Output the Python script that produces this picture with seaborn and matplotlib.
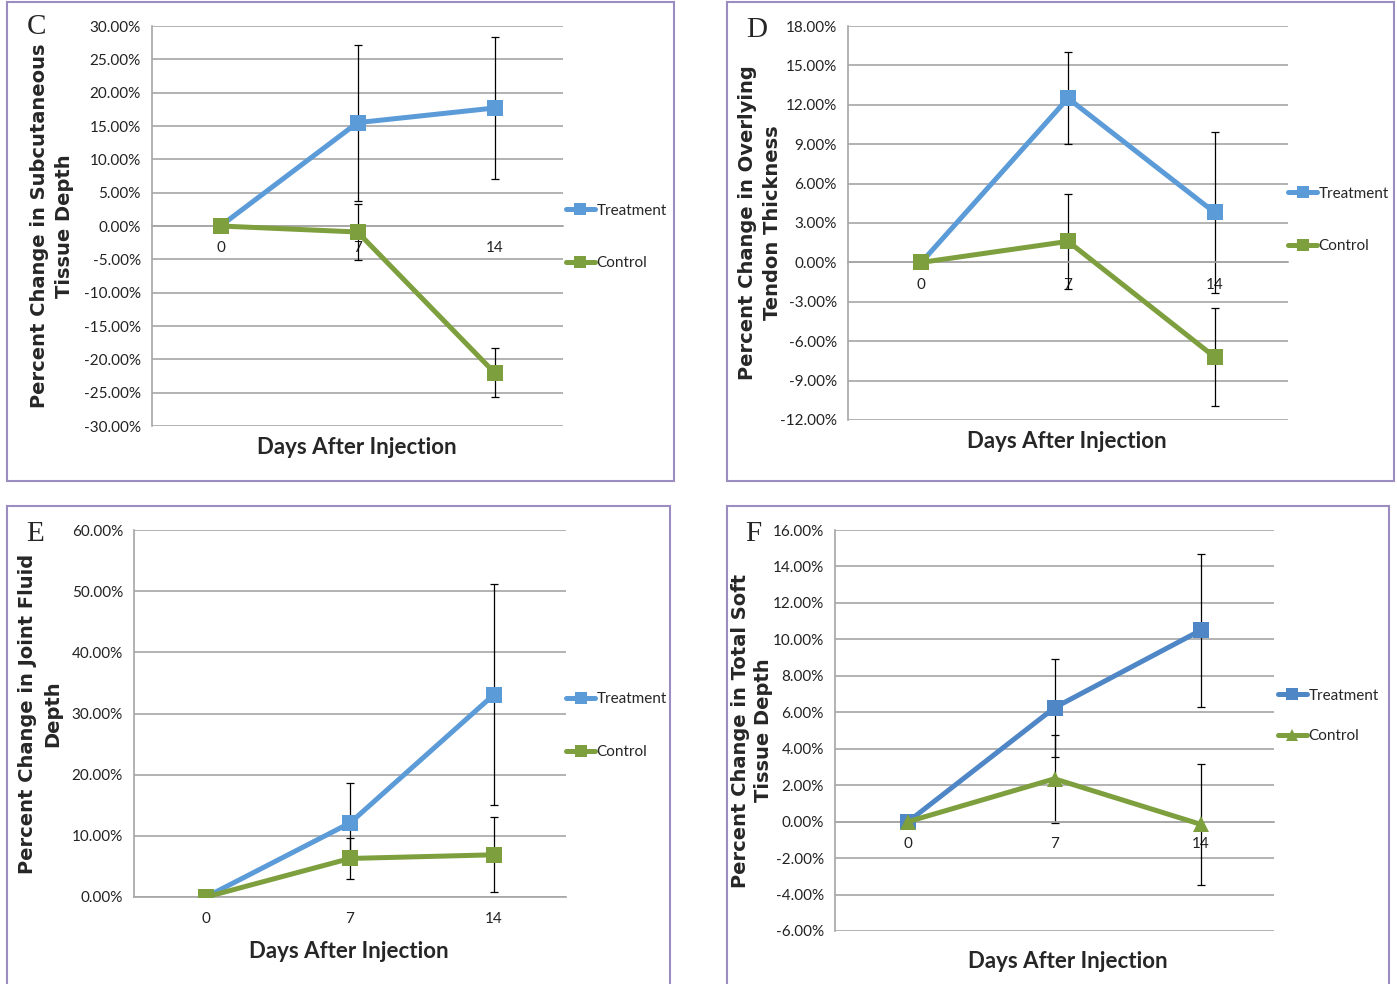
import numpy as np
import pandas as pd
import matplotlib
matplotlib.use("Agg")
import matplotlib.pyplot as plt
import seaborn as sns
from matplotlib.lines import Line2D
from matplotlib.patches import Rectangle

days = ["0", "7", "14"]
groups = ["Treatment", "Control"]

# C - subcutaneous tissue depth (%)
c_treat = [0.0, 15.5, 17.7]
c_treat_err = [0.0, 11.7, 10.6]
c_ctrl = [0.0, -0.9, -22.0]
c_ctrl_err = [0.0, 4.2, 3.7]

# D - overlying tendon thickness (%)
d_treat = [0.0, 12.5, 3.8]
d_treat_err = [0.0, 3.5, 6.1]
d_ctrl = [0.0, 1.6, -7.2]
d_ctrl_err = [0.0, 3.6, 3.7]

# E - joint fluid depth (%)
e_treat = [0.0, 12.1, 33.1]
e_treat_err = [0.0, 6.5, 18.0]
e_ctrl = [0.0, 6.3, 6.9]
e_ctrl_err = [0.0, 3.4, 6.1]

# F - total soft tissue depth (%)
f_treat = [0.0, 6.25, 10.5]
f_treat_err = [0.0, 2.7, 4.2]
f_ctrl = [0.0, 2.35, -0.15]
f_ctrl_err = [0.0, 2.4, 3.3]

c_ticks = np.arange(-30, 31, 5)
d_ticks = np.arange(-12, 19, 3)
e_ticks = np.arange(0, 61, 10)
f_ticks = np.arange(-6, 17, 2)

W, H = 1397, 984
GRID = "#A6A6A6"
BLUE = "#5B9BD8"
BLUE_F = "#4F86C6"
GREEN = "#7E9F3E"
BORDER = "#9C8CC0"

sns.set_style("white")
plt.rcParams["font.family"] = ["Lato", "DejaVu Sans"]

fig = plt.figure(figsize=(W / 100, H / 100), dpi=100)


def px_rect(x0, y0, x1, y1):
    return [x0 / W, 1 - y1 / H, (x1 - x0) / W, (y1 - y0) / H]


def draw_panel(rect, treat, treat_err, ctrl, ctrl_err, ticks, ylabel, letter,
               ylab_x, ylab_sp, xlab_xy, letter_xy, leg_y, leg_dx, leg_sp,
               blue, ctrl_marker):
    ax = fig.add_axes(px_rect(*rect))
    x = np.arange(len(days))
    df = pd.DataFrame({
        "day": np.tile(x, 2),
        "value": treat + ctrl,
        "group": np.repeat(groups, len(days)),
    })
    pal = {"Treatment": blue, "Control": GREEN}
    marks = {"Treatment": "s", "Control": ctrl_marker}

    ax.errorbar(x, treat, yerr=treat_err, fmt="none", ecolor="black",
                elinewidth=0.9, capsize=3, capthick=0.9, zorder=2)
    ax.errorbar(x, ctrl, yerr=ctrl_err, fmt="none", ecolor="black",
                elinewidth=0.9, capsize=3, capthick=0.9, zorder=2)
    sns.lineplot(data=df, x="day", y="value", hue="group", style="group",
                 palette=pal, markers=marks, dashes=False, lw=3.6,
                 markersize=11, markeredgewidth=0, legend=False, ax=ax,
                 zorder=3)

    ax.set_xlim(-0.5, len(days) - 0.5)
    ax.set_ylim(ticks[0], ticks[-1])
    ax.set_yticks(ticks)
    ax.set_yticklabels([f"{v:.2f}%" for v in ticks])
    ax.set_xticks(x)
    ax.set_xticklabels(days)
    ax.set_xticks(x + 0.5, minor=True)
    ax.set_xlabel("")
    ax.set_ylabel("")

    for s in ["top", "right"]:
        ax.spines[s].set_visible(False)
    ax.spines["left"].set_color(GRID)
    ax.spines["bottom"].set_color(GRID)
    ax.spines["left"].set_linewidth(1.2)
    ax.spines["bottom"].set_linewidth(1.2)
    ax.spines["bottom"].set_position(("data", 0))
    ax.set_axisbelow(True)
    ax.yaxis.grid(True, color=GRID, lw=1.2)
    ax.xaxis.grid(False)
    ax.tick_params(axis="y", length=5, color=GRID, width=1.2,
                   labelsize=11, labelcolor="#222222", pad=3)
    ax.tick_params(axis="x", which="major", length=0, labelsize=11,
                   labelcolor="#222222", pad=11)
    ax.tick_params(axis="x", which="minor", length=5, color=GRID,
                   width=1.2, direction="out")

    x0, y0, x1, y1 = rect
    fig.text(ylab_x / W, 1 - (y0 + y1) / 2 / H, ylabel, rotation=90,
             ha="center", va="center", multialignment="center",
             fontsize=14, fontweight="bold", family="DejaVu Sans",
             linespacing=ylab_sp)
    fig.text(xlab_xy[0] / W, 1 - xlab_xy[1] / H, "Days After Injection",
             ha="center", va="center", fontsize=16, fontweight="bold")
    fig.text(letter_xy[0] / W, 1 - letter_xy[1] / H, letter, ha="center",
             va="center", fontsize=21, family="Liberation Serif")

    handles = [
        Line2D([], [], color=blue, lw=3.6, marker="s", markersize=8,
               markeredgewidth=0),
        Line2D([], [], color=GREEN, lw=3.6, marker=ctrl_marker,
               markersize=8, markeredgewidth=0),
    ]
    ax.legend(handles, groups, loc="center left",
              bbox_to_anchor=(1 + leg_dx, leg_y), frameon=False,
              fontsize=11, handlelength=1.9, handletextpad=0.1,
              labelspacing=leg_sp, borderpad=0, borderaxespad=0)
    return ax


draw_panel((152, 26, 563, 426), c_treat, c_treat_err, c_ctrl, c_ctrl_err,
           c_ticks, "Percent Change in Subcutaneous\nTissue Depth", "C",
           52, 1.45, (357, 447), (37, 27), 0.4725, 0.007, 2.55, BLUE, "s")
draw_panel((848, 26, 1288, 420), d_treat, d_treat_err, d_ctrl, d_ctrl_err,
           d_ticks, "Percent Change in Overlying\nTendon Thickness", "D",
           760, 1.45, (1067, 441), (757, 30), 0.5076, 0.0, 2.55, BLUE, "s")
draw_panel((134, 530, 566, 897), e_treat, e_treat_err, e_ctrl, e_ctrl_err,
           e_ticks, "Percent Change in Joint Fluid\nDepth", "E",
           40, 1.45, (349, 952), (35, 534), 0.466, 0.0, 2.55, BLUE, "s")
draw_panel((835, 530, 1274, 931), f_treat, f_treat_err, f_ctrl, f_ctrl_err,
           f_ticks, "Percent Change in Total Soft\nTissue Depth", "F",
           752, 1.3, (1068, 961), (753, 534), 0.536, 0.009, 1.75, BLUE_F,
           "^")

# purple frames around each panel
for x0, y0, x1, y1 in [(7, 2, 674, 481), (727, 2, 1394, 481),
                       (7, 506, 670, 995), (727, 506, 1389, 995)]:
    fig.patches.append(Rectangle((x0 / W, 1 - y1 / H), (x1 - x0) / W,
                                 (y1 - y0) / H, transform=fig.transFigure,
                                 fill=False, ec=BORDER, lw=1.5))

fig.savefig("out.png", dpi=100)
